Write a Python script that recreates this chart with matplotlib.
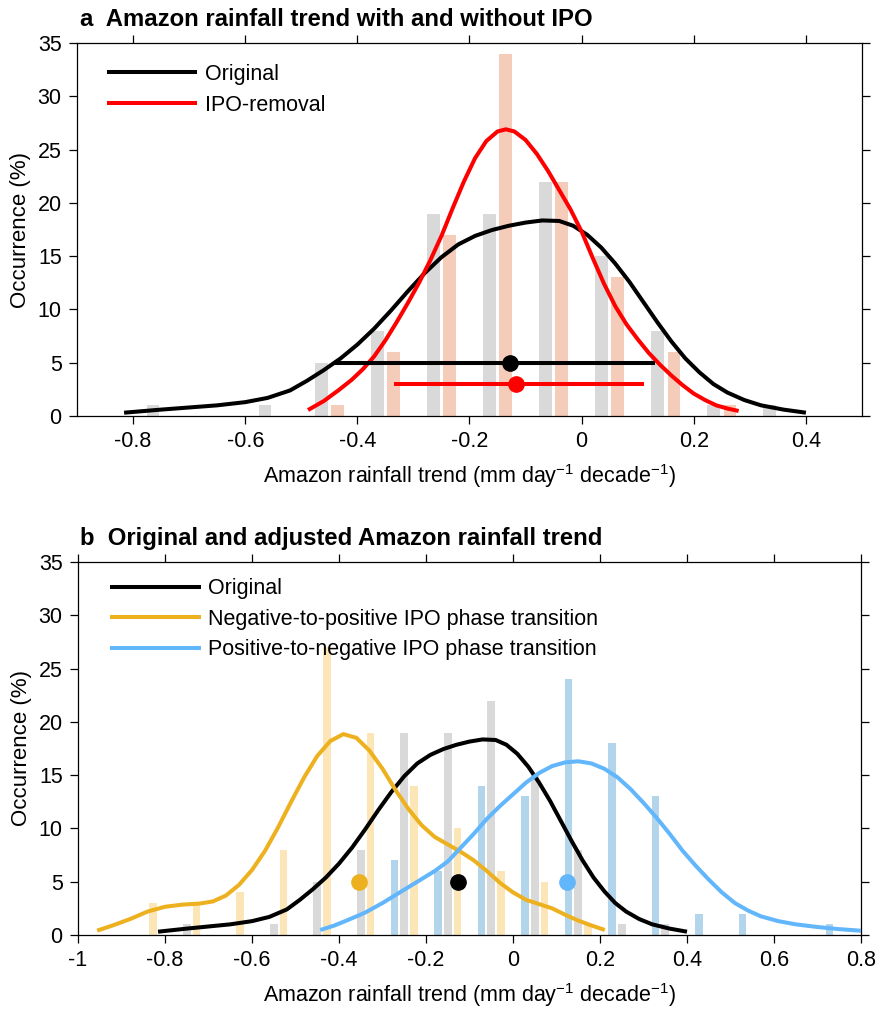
import numpy as np
import matplotlib
matplotlib.use("Agg")
import matplotlib.pyplot as plt
from matplotlib.ticker import FuncFormatter

plt.rcParams['font.family'] = ['Liberation Sans', 'DejaVu Sans']
plt.rcParams['mathtext.fontset'] = 'custom'
plt.rcParams['mathtext.rm'] = 'Liberation Sans'
plt.rcParams['mathtext.it'] = 'Liberation Sans:italic'
plt.rcParams['mathtext.bf'] = 'Liberation Sans:bold'
plt.rcParams['axes.unicode_minus'] = False

# ---------------- data ----------------
# histogram bins (bin centres) and occurrence (%)
orig_bins = [-0.75, -0.65, -0.55, -0.45, -0.35, -0.25, -0.15, -0.05, 0.05, 0.15, 0.25, 0.35]
orig_occ = [1, 0, 1, 5, 8, 19, 19, 22, 15, 8, 1, 1]

ipo_bins = [-0.45, -0.35, -0.25, -0.15, -0.05, 0.05, 0.15, 0.25]
ipo_occ = [1, 6, 17, 34, 22, 13, 6, 1]

neg2pos_bins = [-0.85, -0.75, -0.65, -0.55, -0.45, -0.35, -0.25, -0.15, -0.05, 0.05, 0.15]
neg2pos_occ = [3, 3, 4, 8, 27, 19, 14, 10, 6, 5, 1]

pos2neg_bins = [-0.25, -0.15, -0.05, 0.05, 0.15, 0.25, 0.35, 0.45, 0.55, 0.75]
pos2neg_occ = [7, 6, 14, 13, 24, 18, 13, 2, 2, 1]

# smoothed distribution curves
orig_x = [-0.816, -0.75, -0.70, -0.65, -0.60, -0.56, -0.52, -0.49, -0.46, -0.43,
          -0.40, -0.37, -0.34, -0.31, -0.28, -0.25, -0.22, -0.19, -0.16, -0.13,
          -0.10, -0.07, -0.04, -0.015, 0.01, 0.035, 0.06, 0.085, 0.11, 0.135,
          0.16, 0.185, 0.21, 0.235, 0.26, 0.29, 0.32, 0.36, 0.40]
orig_y = [0.31, 0.6, 0.8, 1.0, 1.3, 1.7, 2.4, 3.3, 4.3, 5.4,
          6.7, 8.2, 9.9, 11.7, 13.4, 14.9, 16.1, 16.9, 17.45, 17.85,
          18.15, 18.35, 18.3, 17.85, 17.0, 15.8, 14.3, 12.6, 10.7, 8.8,
          7.0, 5.4, 4.1, 3.0, 2.2, 1.5, 1.0, 0.6, 0.31]

ipo_x = [-0.488, -0.46, -0.433, -0.41, -0.39, -0.37, -0.35, -0.33, -0.31, -0.29,
         -0.27, -0.25, -0.23, -0.21, -0.19, -0.17, -0.15, -0.135, -0.12, -0.10,
         -0.08, -0.06, -0.04, -0.02, 0.0, 0.02, 0.04, 0.06, 0.08, 0.10,
         0.12, 0.14, 0.16, 0.18, 0.20, 0.22, 0.24, 0.26, 0.28]
ipo_y = [0.56, 1.4, 2.44, 3.4, 4.4, 5.6, 7.1, 8.8, 10.6, 12.5,
         14.6, 16.9, 19.5, 22.0, 24.2, 25.8, 26.7, 26.9, 26.7, 25.9,
         24.6, 23.0, 21.2, 19.4, 17.3, 14.8, 12.4, 10.3, 8.6, 7.2,
         5.9, 4.8, 3.8, 2.9, 2.1, 1.5, 1.0, 0.7, 0.47]

neg2pos_x = [-0.956, -0.92, -0.88, -0.84, -0.80, -0.76, -0.72, -0.69, -0.66, -0.63,
             -0.60, -0.57, -0.54, -0.51, -0.48, -0.45, -0.42, -0.39, -0.36, -0.33,
             -0.30, -0.27, -0.24, -0.21, -0.18, -0.15, -0.12, -0.09, -0.06, -0.03,
             0.0, 0.03, 0.06, 0.09, 0.12, 0.15, 0.18, 0.211]
neg2pos_y = [0.41, 0.9, 1.5, 2.2, 2.65, 2.85, 2.95, 3.15, 3.7, 4.7,
             6.1, 7.9, 10.1, 12.5, 14.8, 16.8, 18.2, 18.85, 18.5, 17.3,
             15.6, 13.6, 11.8, 10.3, 9.2, 8.5, 7.8, 7.0, 6.0, 4.9,
             4.0, 3.3, 2.9, 2.5, 1.9, 1.35, 0.9, 0.47]

pos2neg_x = [-0.443, -0.41, -0.38, -0.34, -0.30, -0.26, -0.22, -0.18, -0.15, -0.12,
             -0.09, -0.06, -0.03, 0.0, 0.03, 0.06, 0.09, 0.12, 0.15, 0.18,
             0.21, 0.24, 0.27, 0.30, 0.33, 0.36, 0.39, 0.42, 0.45, 0.48,
             0.51, 0.54, 0.57, 0.61, 0.65, 0.70, 0.75, 0.80]
pos2neg_y = [0.47, 0.9, 1.4, 2.1, 3.0, 4.0, 5.0, 6.0, 6.9, 8.2,
             9.5, 10.9, 12.1, 13.2, 14.3, 15.2, 15.85, 16.2, 16.3, 16.1,
             15.6, 14.8, 13.7, 12.4, 11.0, 9.5, 7.9, 6.5, 5.2, 4.0,
             3.0, 2.3, 1.75, 1.3, 1.0, 0.75, 0.55, 0.4]

# means and ranges
orig_mean, orig_lo, orig_hi, orig_level = -0.127, -0.439, 0.131, 5
ipo_mean, ipo_lo, ipo_hi, ipo_level = -0.117, -0.335, 0.112, 3
means_b = [-0.354, -0.126, 0.123]
level_b = 5

xticks_a = [-0.8, -0.6, -0.4, -0.2, 0, 0.2, 0.4]
xticks_b = [-1, -0.8, -0.6, -0.4, -0.2, 0, 0.2, 0.4, 0.6, 0.8]
yticks = [0, 5, 10, 15, 20, 25, 30, 35]

title_a = "a  Amazon rainfall trend with and without IPO"
title_b = "b  Original and adjusted Amazon rainfall trend"
xlabel = "Amazon rainfall trend (mm day$^{-1}$ decade$^{-1}$)"
ylabel = "Occurrence (%)"

# ---------------- style ----------------
c_black = 'black'
c_red = '#ff0000'
c_orange = '#edb120'
c_blue = '#62b6fb'
c_gray_bar = '#d9d9d9'
c_salmon_bar = '#f5cbba'
c_orange_bar = '#fce6b8'
c_blue_bar = '#b3d5ec'
lw = 2.9
fs = 15.5

fig = plt.figure(figsize=(8.92, 10.09), dpi=100)
ax_a = fig.add_axes([77 / 892, 1 - 416 / 1009, 785 / 892, 373 / 1009])
ax_b = fig.add_axes([78 / 892, 1 - 935 / 1009, 783 / 892, 373 / 1009])

fmt = FuncFormatter(lambda v, p: ('%g' % round(v, 2)))


def style_axes(ax, xlim, xticks):
    ax.set_xlim(*xlim)
    ax.set_ylim(0, 35)
    ax.set_xticks(xticks)
    ax.set_yticks(yticks)
    ax.xaxis.set_major_formatter(fmt)
    ax.yaxis.set_major_formatter(fmt)
    ax.tick_params(direction='out', top=True, right=True, length=6, width=0.9,
                   labelsize=fs, pad=5)
    for s in ax.spines.values():
        s.set_linewidth(0.9)
    ax.set_xlabel(xlabel, fontsize=fs, labelpad=7)
    ax.set_ylabel(ylabel, fontsize=16, labelpad=5)


leg_kw = dict(loc='upper left', frameon=False, fontsize=fs, handlelength=4.2,
              handletextpad=0.37, labelspacing=0.45, borderpad=0, borderaxespad=0)

# ---- panel a ----
w_a = 0.0226
ax_a.bar(np.array(orig_bins) - 0.0145, orig_occ, width=w_a, color=c_gray_bar, zorder=1)
ax_a.bar(np.array(ipo_bins) + 0.0145, ipo_occ, width=w_a, color=c_salmon_bar, zorder=1)
l1, = ax_a.plot(orig_x, orig_y, color=c_black, lw=lw, zorder=3, label='Original',
                solid_capstyle='butt')
l2, = ax_a.plot(ipo_x, ipo_y, color=c_red, lw=lw, zorder=3, label='IPO-removal',
                solid_capstyle='butt')
ax_a.plot([orig_lo, orig_hi], [orig_level, orig_level], color=c_black, lw=lw, zorder=4,
          solid_capstyle='butt')
ax_a.plot([orig_mean], [orig_level], 'o', color=c_black, ms=11, zorder=5)
ax_a.plot([ipo_lo, ipo_hi], [ipo_level, ipo_level], color=c_red, lw=lw, zorder=4,
          solid_capstyle='butt')
ax_a.plot([ipo_mean], [ipo_level], 'o', color=c_red, ms=11, zorder=5)
style_axes(ax_a, (-0.9, 0.5), xticks_a)
ax_a.legend(handles=[l1, l2], bbox_to_anchor=(0.038, 0.944), **leg_kw)

# ---- panel b ----
w_b = 0.0176
ax_b.bar(np.array(orig_bins), orig_occ, width=w_b, color=c_gray_bar, zorder=1)
ax_b.bar(np.array(neg2pos_bins) + 0.0225, neg2pos_occ, width=w_b, color=c_orange_bar, zorder=1)
ax_b.bar(np.array(pos2neg_bins) - 0.0225, pos2neg_occ, width=w_b, color=c_blue_bar, zorder=1)
m1, = ax_b.plot(orig_x, orig_y, color=c_black, lw=lw, zorder=3, label='Original',
                solid_capstyle='butt')
m2, = ax_b.plot(neg2pos_x, neg2pos_y, color=c_orange, lw=lw, zorder=3,
                label='Negative-to-positive IPO phase transition', solid_capstyle='butt')
m3, = ax_b.plot(pos2neg_x, pos2neg_y, color=c_blue, lw=lw, zorder=3,
                label='Positive-to-negative IPO phase transition', solid_capstyle='butt')
for mx, mc in zip(means_b, [c_orange, c_black, c_blue]):
    ax_b.plot([mx], [level_b], 'o', color=mc, ms=11, zorder=5)
style_axes(ax_b, (-1, 0.8), xticks_b)
ax_b.legend(handles=[m1, m2, m3], bbox_to_anchor=(0.041, 0.957), **leg_kw)

fig.text(80 / 892, 1 - 19 / 1009, title_a, fontsize=17.2, fontweight='bold',
         ha='left', va='center')
fig.text(80 / 892, 1 - 538 / 1009, title_b, fontsize=17.2, fontweight='bold',
         ha='left', va='center')

fig.savefig('out.png', dpi=100)
